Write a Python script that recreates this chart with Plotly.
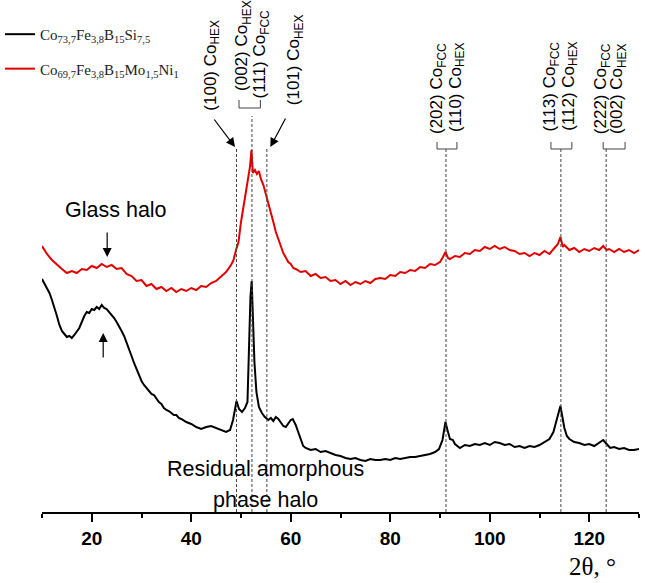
import plotly.graph_objects as go

# ---- data (2θ in degrees, intensity in arbitrary units) ----
two_theta_si = [10, 10.5, 11, 11.5, 12, 12.5, 13, 13.5, 14, 14.5, 15, 15.5, 16, 16.5, 17, 17.5, 18, 18.5,
                19, 19.5, 20, 20.5, 21, 21.5, 22, 22.5, 23, 23.5, 24, 24.5, 25, 25.5, 26, 26.5, 27, 27.5,
                28, 28.5, 29, 29.5, 30, 30.5, 31, 31.5, 32, 32.5, 33, 33.5, 34, 34.5, 35, 35.5, 36, 36.5,
                37, 37.5, 38, 39, 40, 41, 42, 43, 44, 45, 46, 47, 47.8, 48.4, 49.1, 49.6, 50.2, 50.8,
                51.3, 51.6, 51.9, 52.15, 52.4, 52.7, 53.1, 53.6, 54.2, 54.8, 55.5, 56, 56.5, 57, 57.5,
                58, 58.5, 59, 59.5, 60, 60.4, 61, 61.5, 62, 62.5, 63, 64, 65, 66, 67, 68, 69, 70, 71, 72,
                73, 74, 75, 76, 77, 78, 79, 80, 81, 82, 83, 84, 85, 86, 87, 88, 89, 89.8, 90.5, 91.1,
                91.5, 92, 92.6, 93, 94, 95, 96, 97, 98, 99, 100, 101, 102, 103, 104, 105, 106, 107, 108,
                109, 110, 111, 112, 112.8, 113.4, 113.9, 114.2, 114.6, 115, 115.5, 116, 117, 118, 119,
                120, 121, 122, 122.8, 123.5, 124.2, 125, 126, 127, 128, 129, 130]
intensity_si = [233, 228, 224, 219, 212, 205, 196, 187, 181, 178, 175, 176, 174, 177, 180, 184, 190, 196,
                200, 199, 203, 202, 205, 203, 207, 204, 203, 200, 198, 194, 190, 186, 181, 176, 170, 163,
                156, 149, 143, 137, 131, 127, 124, 120, 118, 117, 113, 110, 108, 104, 102, 101, 99, 97,
                97, 94, 93, 90, 88, 85, 83, 85, 86, 84, 82, 80, 82, 92, 111, 103, 100, 104,
                110, 160, 215, 231, 195, 150, 120, 105, 99, 95, 92, 94, 91, 95, 93,
                89, 86, 85, 88, 92, 93, 87, 80, 72, 66, 64, 62, 63, 60, 61, 59, 57, 56, 54, 53,
                54, 52, 51, 53, 52, 52, 53, 52, 54, 53, 54, 55, 55, 56, 57, 58, 60, 63, 72, 90,
                82, 73, 72, 68, 64, 67, 66, 68, 67, 69, 67, 70, 69, 67, 68, 65, 66, 64, 66,
                65, 67, 70, 73, 80, 92, 103, 106, 95, 84, 76, 73, 70, 69, 67,
                68, 66, 69, 72, 68, 64, 65, 63, 64, 62, 62, 63]

two_theta_mo = [10, 11, 12, 13, 14, 15, 16, 17, 18, 19, 20, 21, 22, 23, 24, 25, 26, 27, 28, 29, 30, 31,
                32, 33, 34, 35, 36, 37, 38, 39, 40, 41, 42, 43, 44, 45, 46, 47, 48, 48.5, 49, 49.5, 50,
                50.5, 51, 51.5, 51.8, 52.1, 52.4, 52.8, 53.2, 53.6, 54, 54.5, 55, 55.5, 56, 56.5, 57,
                57.5, 58, 58.5, 59, 59.5, 60, 60.5, 61, 62, 63, 64, 65, 66, 67, 68, 69, 70, 71, 72, 73,
                74, 75, 76, 77, 78, 79, 80, 81, 82, 83, 84, 85, 86, 87, 88, 89, 90, 90.6, 91.1, 91.6,
                92, 93, 94, 95, 96, 97, 98, 99, 100, 101, 102, 103, 104, 105, 106, 107, 108, 109, 110,
                111, 112, 113, 113.7, 114.2, 114.7, 115, 116, 117, 118, 119, 120, 121, 122, 122.8,
                123.5, 124, 125, 126, 127, 128, 129, 130]
intensity_mo = [266, 258, 252, 247, 243, 239, 241, 239, 243, 242, 246, 244, 248, 245, 247, 243, 244, 238,
                236, 231, 232, 226, 228, 223, 225, 221, 224, 220, 223, 221, 224, 222, 226, 225, 229, 231,
                236, 240, 247, 252, 262, 270, 290, 305, 318, 332, 345, 362, 339, 342, 338, 341, 333,
                327, 318, 310, 300, 290, 280, 272, 266, 259, 254, 250, 248, 244, 243, 240, 241, 236,
                238, 234, 235, 231, 232, 228, 231, 227, 230, 228, 231, 229, 233, 234, 233, 237, 236,
                240, 239, 242, 241, 245, 244, 248, 247, 250, 255, 260, 254, 253, 256, 255, 259, 258,
                262, 261, 265, 263, 266, 263, 265, 262, 261, 258, 259, 256, 259, 257, 261, 258, 264,
                268, 275, 265, 267, 262, 264, 260, 263, 261, 264, 262, 266, 262, 263, 260, 263, 260,
                262, 259, 262]

series_names = ["Co<sub>73,7</sub>Fe<sub>3,8</sub>B<sub>15</sub>Si<sub>7,5</sub>",
                "Co<sub>69,7</sub>Fe<sub>3,8</sub>B<sub>15</sub>Mo<sub>1,5</sub>Ni<sub>1</sub>"]

# reflection positions (2θ) marked by dashed lines
peak_lines = [49.1, 52.2, 55.2, 91.2, 114.3, 123.4]
x_ticks = [20, 40, 60, 80, 100, 120]
x_minor = [10, 30, 50, 70, 90, 110, 130]

fig = go.Figure()
fig.add_trace(go.Scatter(x=two_theta_si, y=intensity_si, mode="lines", name=series_names[0],
                         line=dict(color="black", width=2), legendgroup="a"))
fig.add_trace(go.Scatter(x=two_theta_mo, y=intensity_mo, mode="lines", name=series_names[1],
                         line=dict(color="#e00000", width=2), legendgroup="b"))

shapes = []
dash_style = dict(color="#444", width=1, dash="3px,2px")
tops = {49.1: 365, 52.2: 396, 55.2: 365, 91.2: 363, 114.3: 363, 123.4: 363}
for p in peak_lines:
    shapes.append(dict(type="line", xref="x", yref="y", x0=p, x1=p, y0=0, y1=tops[p], line=dash_style))

# brackets joining paired labels
brackets = [(49.6, 53.9, 412, 404), (89.4, 93.4, 370, 363), (112.3, 116.5, 370, 363), (122.8, 127.2, 370, 363)]
for xa, xb, ytop, ybot in brackets:
    shapes.append(dict(type="path", xref="x", yref="y",
                       path=f"M{xa},{ytop} L{xa},{ybot} L{xb},{ybot} L{xb},{ytop}",
                       line=dict(color="#444", width=1)))

ann = []
lab_font = dict(family="Liberation Sans, Arial", size=17, color="black")
labels = [
    (44.0, 399, "(100) Co<sub>HEX</sub>"),
    (50.3, 419, "(002) Co<sub>HEX</sub>"),
    (54.1, 412, "(111) Co<sub>FCC</sub>"),
    (60.8, 405, "(101) Co<sub>HEX</sub>"),
    (89.5, 376, "(202) Co<sub>FCC</sub>"),
    (93.3, 378, "(110) Co<sub>HEX</sub>"),
    (112.4, 379, "(113) Co<sub>FCC</sub>"),
    (116.0, 379, "(112) Co<sub>HEX</sub>"),
    (122.5, 376, "(222) Co<sub>FCC</sub>"),
    (125.7, 376, "(002) Co<sub>HEX</sub>"),
]
for x, y, t in labels:
    ann.append(dict(x=x, y=y, xref="x", yref="y", text=t, textangle=-90, showarrow=False,
                    xanchor="center", yanchor="bottom", font=lab_font))

# arrows
def arrow(x0, y0, x1, y1):
    return dict(x=x1, y=y1, ax=x0, ay=y0, xref="x", yref="y", axref="x", ayref="y", text="",
                showarrow=True, arrowhead=2, arrowsize=1.5, arrowwidth=1.2, arrowcolor="black")

ann += [arrow(44.4, 394, 48.8, 365), arrow(59.1, 395, 55.9, 365),
        arrow(23.1, 281, 23.1, 255), arrow(22.3, 153, 22.3, 179)]

txt_font = dict(family="Liberation Sans, Arial", size=21.5, color="black")
ann.append(dict(x=24.8, y=302, xref="x", yref="y", text="Glass halo", showarrow=False, font=txt_font,
                xanchor="center", yanchor="middle"))
ann.append(dict(x=55.0, y=43, xref="x", yref="y", text="Residual amorphous", showarrow=False, font=txt_font,
                xanchor="center", yanchor="middle"))
ann.append(dict(x=55.0, y=12, xref="x", yref="y", text="phase halo", showarrow=False, font=txt_font,
                xanchor="center", yanchor="middle"))
ann.append(dict(x=0.9275, y=-0.107, xref="paper", yref="paper", text="2θ, °", showarrow=False,
                xanchor="center", yanchor="middle",
                font=dict(family="Liberation Serif, Times New Roman", size=25, color="black")))

fig.update_layout(
    width=645, height=583,
    margin=dict(l=0, r=6, t=0, b=71, autoexpand=False),
    plot_bgcolor="white", paper_bgcolor="white",
    shapes=shapes, annotations=ann,
    showlegend=True,
    legend=dict(x=0.0, xanchor="left", y=0.965, yanchor="top", traceorder="grouped",
                tracegroupgap=12, bgcolor="rgba(0,0,0,0)",
                font=dict(family="Liberation Serif, Times New Roman", size=15, color="#222")),
    xaxis=dict(domain=[42 / 639, 1], range=[10, 130], tickmode="array", tickvals=x_ticks,
               ticktext=[str(v) for v in x_ticks],
               showline=True, linecolor="black", linewidth=2, ticks="outside", ticklen=8, tickwidth=2,
               tickcolor="black", showgrid=False, zeroline=False,
               minor=dict(ticks="outside", ticklen=4, tickwidth=2, tickcolor="black", tickvals=x_minor),
               tickfont=dict(family="Liberation Sans, Arial", size=19, color="black", weight="bold")),
    yaxis=dict(range=[0, 512], visible=False, showgrid=False, zeroline=False),
)

fig.write_html("out.html", config={"displayModeBar": False},
               post_script="document.body.style.margin='0';document.body.style.overflow='hidden';")
